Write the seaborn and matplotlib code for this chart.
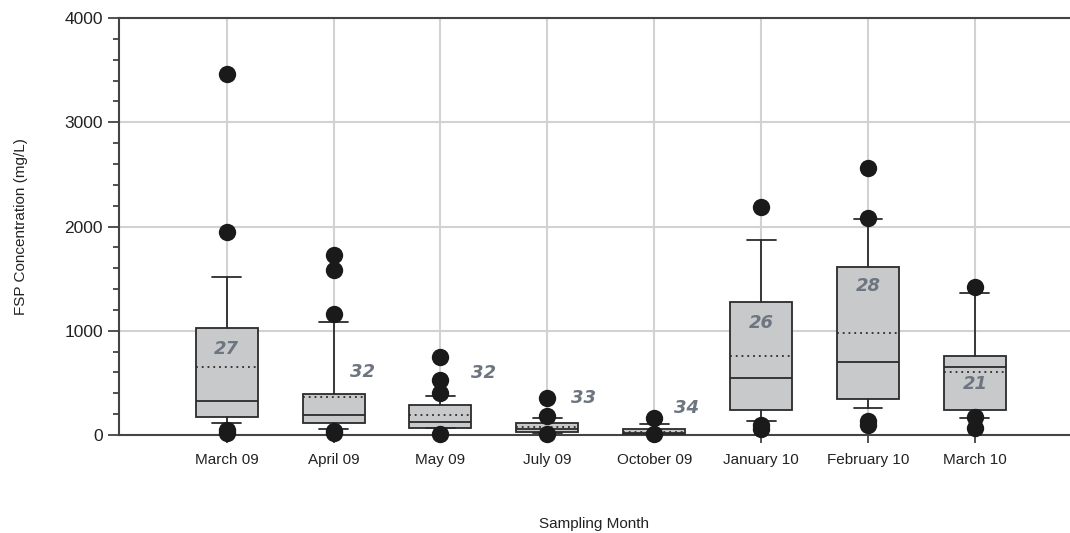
import numpy as np
import pandas as pd
import matplotlib
matplotlib.use("Agg")
import matplotlib.pyplot as plt
from matplotlib.ticker import MultipleLocator
import seaborn as sns

months = ["March 09", "April 09", "May 09", "July 09", "October 09",
          "January 10", "February 10", "March 10"]
# box statistics (mg/L)
q1 = [176, 112, 70, 26, 5, 240, 345, 240]
median = [329, 192, 125, 58, 20, 544, 703, 649]
mean = [652, 362, 192, 80, 26, 761, 975, 607]
q3 = [1023, 393, 285, 112, 58, 1278, 1608, 758]
whislo = [118, 55, 67, 20, 3, 134, 256, 166]
whishi = [1512, 1084, 377, 166, 103, 1870, 2069, 1359]
outliers = [
    [3462, 1944, 50, 20],
    [1726, 1582, 1160, 40, 15],
    [751, 527, 400, 10],
    [358, 185, 5],
    [160, 5],
    [2184, 100, 60],
    [2564, 2078, 130, 95],
    [1417, 176, 64],
]
n_labels = ["27", "32", "32", "33", "34", "26", "28", "21"]
label_y = [825, 604, 597, 355, 259, 1077, 1429, 486]
label_dx = [0, 0.27, 0.4, 0.34, 0.3, 0, 0, 0]

sns.set_style("white")
plt.rcParams["font.family"] = ["Liberation Sans Narrow", "Liberation Sans", "DejaVu Sans"]

fig = plt.figure(figsize=(10.7, 5.33), dpi=100)
ax = fig.add_axes([0.111, 0.184, 0.889, 0.782])

stats = []
for i in range(len(months)):
    stats.append(dict(med=median[i], q1=q1[i], q3=q3[i], whislo=whislo[i],
                      whishi=whishi[i], mean=mean[i], fliers=[], label=months[i]))

ax.bxp(stats, positions=range(len(months)), widths=0.58, patch_artist=True,
       showmeans=True, meanline=True, showfliers=False,
       boxprops=dict(facecolor="#c8c9cb", edgecolor="#2b2b2b", linewidth=1.3),
       medianprops=dict(color="#2b2b2b", linewidth=1.3),
       meanprops=dict(color="#2b2b2b", linestyle=(0, (1, 2.2)), linewidth=1.3),
       whiskerprops=dict(color="#2b2b2b", linewidth=1.3),
       capprops=dict(color="#2b2b2b", linewidth=1.3),
       capwidths=0.27, zorder=3)

out_df = pd.DataFrame([(months[i], v) for i in range(len(months)) for v in outliers[i]],
                      columns=["month", "value"])
sns.stripplot(data=out_df, x="month", y="value", order=months, jitter=False,
              color="#1a1a1a", size=12.5, ax=ax, zorder=4, clip_on=False)

for i in range(len(months)):
    ax.text(i + label_dx[i], label_y[i], n_labels[i], ha="center", va="center",
            fontsize=13, fontweight="bold", fontstyle="italic", color="#6d7580",
            family=["DejaVu Sans"], zorder=5)

ax.set_xlim(-1.01, 7.89)
ax.set_ylim(0, 4000)
ax.set_xticks(range(len(months)))
ax.set_xticklabels(months, fontsize=11, color="#222222")
ax.yaxis.set_major_locator(MultipleLocator(1000))
ax.yaxis.set_minor_locator(MultipleLocator(200))
ax.tick_params(axis="y", which="major", length=8, width=1.2, color="#333333",
               labelsize=12.5, labelcolor="#222222", left=True)
ax.tick_params(axis="y", which="minor", length=4.5, width=1.2, color="#333333", left=True)
ax.tick_params(axis="x", which="major", length=6, width=1.2, color="#333333",
               bottom=True, pad=7)

ax.grid(True, axis="both", color="#d2d2d2", linewidth=1.5, zorder=0)
ax.set_axisbelow(True)
for s in ["left", "bottom", "top"]:
    ax.spines[s].set_color("#444444")
    ax.spines[s].set_linewidth(1.5)
ax.spines["right"].set_visible(False)

ax.set_xlabel("Sampling Month", fontsize=11, labelpad=36, color="#222222")
ax.set_ylabel("FSP Concentration (mg/L)", fontsize=11, labelpad=26, color="#222222")

fig.savefig("out.png", dpi=100)
